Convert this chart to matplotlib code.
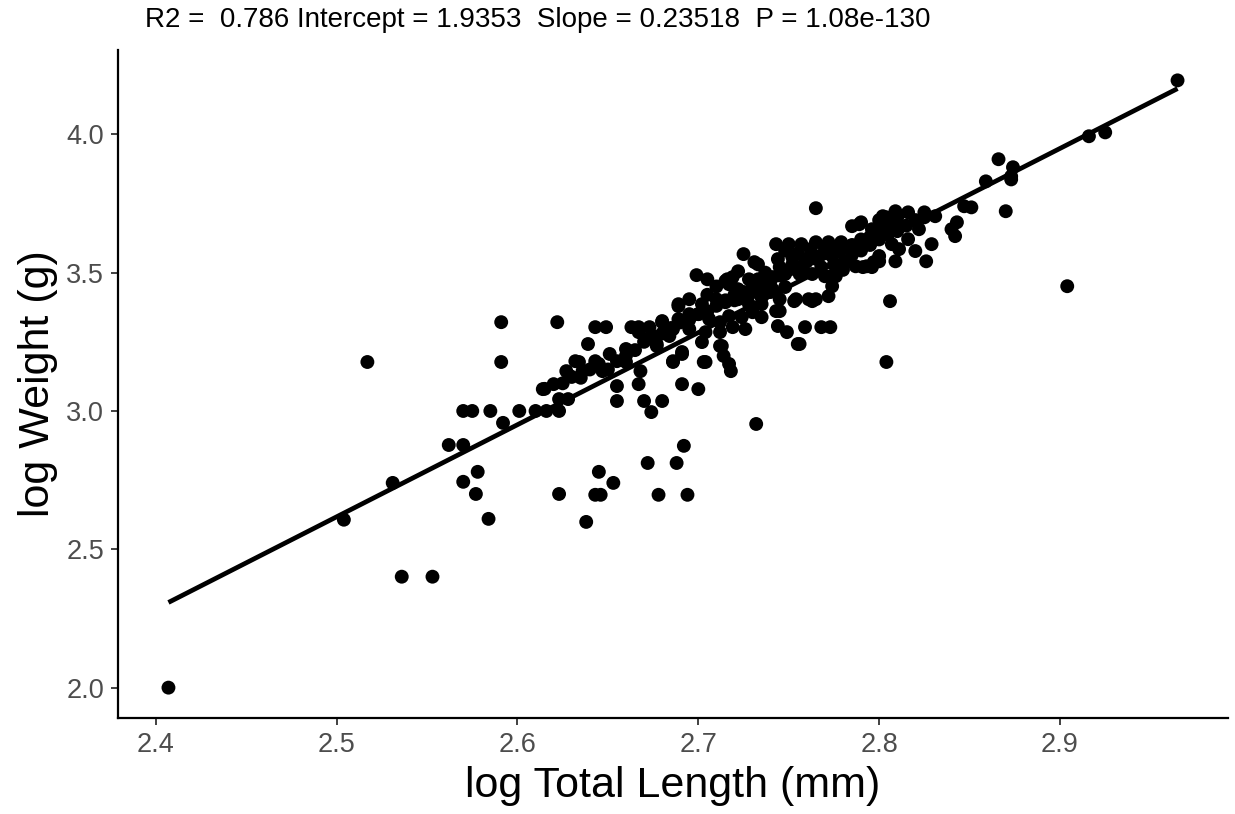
import matplotlib
matplotlib.use("Agg")
import matplotlib.pyplot as plt
import numpy as np

# log Total Length (mm)
log_length = [
    2.407, 2.504, 2.517, 2.531, 2.536, 2.553, 2.562, 2.570, 2.570, 2.575,
    2.585, 2.601, 2.610, 2.616, 2.623, 2.591, 2.622, 2.591, 2.592, 2.578,
    2.570, 2.577, 2.623, 2.584, 2.614, 2.620, 2.627, 2.623, 2.628, 2.630,
    2.632,
    2.732, 2.692, 2.672, 2.688, 2.645, 2.653, 2.643, 2.646, 2.678, 2.694,
    2.638, 2.655, 2.670, 2.680, 2.674,
    2.699, 2.705, 2.643, 2.649, 2.663, 2.667, 2.680, 2.673, 2.639, 2.689,
    2.695, 2.716, 2.634, 2.643, 2.651, 2.660, 2.668, 2.686, 2.691, 2.703,
    2.702, 2.655, 2.667, 2.691, 2.700, 2.629, 2.636, 2.647, 2.660, 2.677,
    2.684,
    2.725, 2.731, 2.718, 2.721, 2.761, 2.765, 2.754, 2.745, 2.735, 2.744,
    2.749, 2.759, 2.768, 2.773, 2.755, 2.719, 2.726, 2.713, 2.714, 2.718,
    2.772, 2.774, 2.773, 2.785, 2.790, 2.793, 2.787, 2.797,
    2.806, 2.804, 2.870, 2.847, 2.851, 2.843, 2.840, 2.842, 2.829, 2.826,
    2.820, 2.816, 2.831, 2.825, 2.809, 2.802, 2.822, 2.807, 2.811, 2.809,
    2.800, 2.791, 2.796, 2.859, 2.873,
    2.965, 2.916, 2.925, 2.874, 2.873, 2.866, 2.904,
    2.765, 2.743, 2.750, 2.757, 2.765, 2.772, 2.779, 2.789, 2.796, 2.804,
    2.816, 2.800, 2.781, 2.774, 2.767, 2.759, 2.752, 2.744, 2.719, 2.722,
    2.728, 2.733, 2.741, 2.748, 2.756, 2.763, 2.770, 2.776, 2.763, 2.753,
    2.745, 2.748, 2.741, 2.733, 2.722, 2.717, 2.710, 2.702, 2.689, 2.715,
    2.722, 2.728, 2.735, 2.743, 2.730, 2.724, 2.717, 2.712, 2.706, 2.700,
    2.695, 2.689, 2.680, 2.686, 2.695, 2.704, 2.712, 2.756, 2.712, 2.717,
    2.704, 2.691, 2.686, 2.677, 2.671, 2.667,
    # dense core along the fitted line
    2.615, 2.625, 2.635, 2.640, 2.645, 2.650, 2.655, 2.660, 2.665, 2.670,
    2.675, 2.680, 2.685, 2.690, 2.695, 2.700, 2.705, 2.710, 2.715, 2.720,
    2.725, 2.730, 2.735, 2.740, 2.745, 2.750, 2.755, 2.760, 2.765, 2.770,
    2.775, 2.780, 2.785, 2.790, 2.795, 2.800, 2.805, 2.810,
    2.748, 2.755, 2.762, 2.770, 2.778, 2.785, 2.790, 2.795, 2.800, 2.805,
    2.810, 2.815, 2.820, 2.825, 2.810, 2.800,
    2.705, 2.710, 2.715, 2.720, 2.728, 2.735, 2.740, 2.737, 2.745, 2.733,
    2.752, 2.758, 2.768, 2.775, 2.780,
]

# log Weight (g)
log_weight = [
    2.000, 2.607, 3.177, 2.740, 2.401, 2.401, 2.877, 2.877, 3.000, 3.000,
    3.000, 3.000, 3.000, 3.000, 3.000, 3.321, 3.321, 3.177, 2.957, 2.780,
    2.744, 2.700, 2.700, 2.610, 3.079, 3.097, 3.144, 3.043, 3.043, 3.123,
    3.180,
    2.953, 2.874, 2.812, 2.812, 2.780, 2.740, 2.697, 2.697, 2.697, 2.697,
    2.599, 3.036, 3.036, 3.036, 2.996,
    3.491, 3.476, 3.303, 3.303, 3.303, 3.303, 3.325, 3.303, 3.242, 3.386,
    3.404, 3.476, 3.177, 3.180, 3.206, 3.177, 3.144, 3.177, 3.206, 3.177,
    3.249, 3.090, 3.097, 3.097, 3.079, 3.126, 3.144, 3.144, 3.224, 3.242,
    3.271,
    3.567, 3.538, 3.476, 3.440, 3.404, 3.404, 3.404, 3.361, 3.339, 3.307,
    3.285, 3.303, 3.303, 3.303, 3.242, 3.303, 3.296, 3.235, 3.199, 3.144,
    3.415, 3.451, 3.487, 3.668, 3.682, 3.523, 3.523, 3.538,
    3.397, 3.177, 3.722, 3.740, 3.736, 3.682, 3.657, 3.632, 3.603, 3.541,
    3.578, 3.621, 3.704, 3.718, 3.722, 3.704, 3.657, 3.603, 3.585, 3.541,
    3.541, 3.520, 3.520, 3.830, 3.837,
    4.195, 3.993, 4.007, 3.881, 3.848, 3.910, 3.451,
    3.733, 3.603, 3.603, 3.603, 3.610, 3.610, 3.610, 3.675, 3.657, 3.700,
    3.718, 3.560, 3.541, 3.560, 3.560, 3.549, 3.556, 3.549, 3.484, 3.505,
    3.476, 3.476, 3.484, 3.495, 3.495, 3.495, 3.487, 3.487, 3.397, 3.397,
    3.404, 3.448, 3.440, 3.440, 3.440, 3.458, 3.404, 3.386, 3.379, 3.393,
    3.404, 3.386, 3.386, 3.361, 3.357, 3.339, 3.343, 3.321, 3.332, 3.350,
    3.350, 3.332, 3.321, 3.296, 3.296, 3.285, 3.285, 3.242, 3.235, 3.170,
    3.177, 3.213, 3.180, 3.235, 3.260, 3.285,
    3.080, 3.100, 3.120, 3.150, 3.170, 3.150, 3.180, 3.200, 3.220, 3.250,
    3.270, 3.280, 3.300, 3.320, 3.330, 3.350, 3.360, 3.380, 3.400, 3.420,
    3.430, 3.450, 3.460, 3.470, 3.490, 3.510, 3.520, 3.540, 3.550, 3.570,
    3.580, 3.590, 3.600, 3.620, 3.630, 3.650, 3.660, 3.680,
    3.580, 3.570, 3.585, 3.590, 3.575, 3.565, 3.580, 3.600, 3.620, 3.640,
    3.650, 3.670, 3.690, 3.700, 3.700, 3.690,
    3.420, 3.450, 3.470, 3.400, 3.420, 3.410, 3.430, 3.500, 3.520, 3.530,
    3.530, 3.510, 3.520, 3.530, 3.510,
]

# fitted line (as drawn)
fit_slope = 3.3286
fit_intercept = -5.704

title_text = "R2 =  0.786 Intercept = 1.9353  Slope = 0.23518  P = 1.08e-130"
x_label = "log Total Length (mm)"
y_label = "log Weight (g)"
x_ticks = [2.4, 2.5, 2.6, 2.7, 2.8, 2.9]
y_ticks = [2.0, 2.5, 3.0, 3.5, 4.0]

plt.rcParams['font.family'] = ['Liberation Sans', 'DejaVu Sans']

fig = plt.figure(figsize=(12.35, 8.14), dpi=100)
ax = fig.add_axes([118/1235, 1 - 718/814, (1228-118)/1235, (718-50)/814])

x = np.array(log_length)
y = np.array(log_weight)
ax.scatter(x, y, s=100, color='black', edgecolors='none', zorder=3)

xl = np.array([x.min(), x.max()])
ax.plot(xl, fit_intercept + fit_slope * xl, color='black', lw=3.4, zorder=4,
        solid_capstyle='butt')

xr = x.max() - x.min()
yr = y.max() - y.min()
ax.set_xlim(x.min() - 0.05 * xr, x.max() + 0.05 * xr)
ax.set_ylim(y.min() - 0.05 * yr, y.max() + 0.05 * yr)

ax.set_xticks(x_ticks)
ax.set_xticklabels([f"{t:.1f}" for t in x_ticks])
ax.set_yticks(y_ticks)
ax.set_yticklabels([f"{t:.1f}" for t in y_ticks])

for side in ['top', 'right']:
    ax.spines[side].set_visible(False)
for side in ['left', 'bottom']:
    ax.spines[side].set_linewidth(1.6)
    ax.spines[side].set_color('black')

ax.tick_params(axis='both', length=5, width=1.3, color='#333333',
               labelcolor='#4D4D4D', labelsize=19.5, pad=5)

ax.set_xlabel(x_label, fontsize=31, color='black', labelpad=6)
ax.set_ylabel(y_label, fontsize=31, color='black', labelpad=6)

fig.text(145/1235, 1 - 20/814, title_text, fontsize=20, color='black',
         ha='left', va='center')

fig.savefig("out.png", dpi=100)
